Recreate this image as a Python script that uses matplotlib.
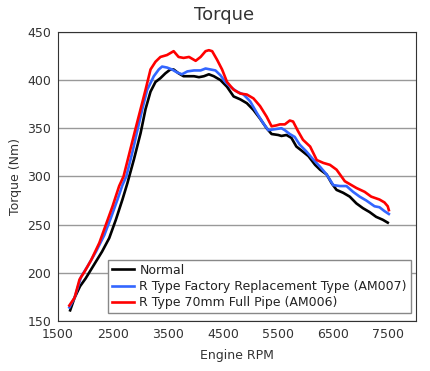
import matplotlib
matplotlib.use("Agg")
import matplotlib.pyplot as plt

# values
normal_rpm = [1720, 1800, 1900, 2000, 2150, 2300, 2430, 2550, 2670, 2760, 2880, 3000,
              3090, 3180, 3270, 3360, 3450, 3540, 3600, 3690, 3780, 3880, 3970, 4060,
              4150, 4240, 4330, 4450, 4570, 4690, 4810, 4930, 5050, 5170, 5290, 5380,
              5500, 5560, 5650, 5740, 5830, 5920, 6050, 6170, 6260, 6380, 6470, 6560,
              6680, 6800, 6920, 7040, 7160, 7280, 7400, 7490]
normal_nm = [161, 174, 186, 194, 208, 222, 236, 255, 276, 293, 318, 345,
             370, 388, 398, 402, 407, 411, 411, 407, 404, 404, 404, 403,
             404, 406, 404, 400, 393, 383, 380, 376, 369, 360, 350, 344,
             343, 342, 343, 340, 331, 327, 321, 312, 307, 302, 293, 286,
             283, 279, 272, 267, 263, 258, 255, 252]

am007_rpm = [1705, 1800, 1920, 2040, 2190, 2340, 2460, 2580, 2670, 2740, 2850, 2950,
             3040, 3120, 3240, 3330, 3390, 3480, 3570, 3660, 3750, 3850, 3970, 4090,
             4180, 4270, 4360, 4450, 4540, 4630, 4750, 4870, 4990, 5110, 5230, 5320,
             5440, 5560, 5620, 5710, 5800, 5890, 6010, 6130, 6260, 6380, 6500, 6620,
             6740, 6860, 6980, 7100, 7250, 7340, 7430, 7510]
am007_nm = [164, 174, 196, 207, 222, 239, 257, 276, 291, 300, 325, 350,
            372, 390, 404, 411, 414, 413, 411, 408, 406, 409, 410, 410,
            412, 411, 410, 405, 398, 393, 388, 385, 378, 366, 355, 348,
            349, 350, 348, 344, 341, 333, 326, 318, 310, 302, 291, 290,
            290, 284, 279, 275, 269, 268, 264, 261]

am006_rpm = [1705, 1800, 1890, 1980, 2100, 2250, 2370, 2490, 2610, 2690, 2800, 2910,
             3000, 3090, 3180, 3270, 3360, 3480, 3600, 3690, 3780, 3880, 4000, 4090,
             4180, 4240, 4300, 4390, 4480, 4570, 4690, 4810, 4930, 5050, 5170, 5290,
             5380, 5470, 5530, 5620, 5710, 5770, 5860, 5950, 6080, 6200, 6320, 6440,
             6560, 6710, 6800, 6920, 7070, 7190, 7340, 7430, 7490, 7510]
am006_nm = [166, 174, 193, 201, 213, 231, 250, 269, 290, 300, 325, 350,
            370, 390, 411, 419, 424, 426, 430, 424, 423, 424, 420, 424,
            430, 431, 430, 421, 411, 398, 390, 386, 385, 381, 373, 362,
            352, 353, 354, 354, 358, 357, 347, 338, 331, 317, 314, 312,
            307, 295, 292, 288, 284, 279, 276, 273, 269, 265]

series_names = ["Normal",
                "R Type Factory Replacement Type (AM007)",
                "R Type 70mm Full Pipe (AM006)"]
x_ticks = [1500, 2500, 3500, 4500, 5500, 6500, 7500]
y_ticks = [150, 200, 250, 300, 350, 400, 450]

fig = plt.figure(figsize=(4.3, 3.71), dpi=100)
ax = fig.add_axes([0.135, 0.135, 0.832, 0.779])

ax.plot(normal_rpm, normal_nm, color="black", lw=1.9, label=series_names[0])
ax.plot(am007_rpm, am007_nm, color="#3366ff", lw=1.9, label=series_names[1])
ax.plot(am006_rpm, am006_nm, color="#ff0000", lw=1.9, label=series_names[2])

ax.set_xlim(1500, 8000)
ax.set_ylim(150, 450)
ax.set_xticks(x_ticks)
ax.set_yticks(y_ticks)
ax.tick_params(labelsize=9, length=0, pad=5, colors="#333333")
ax.yaxis.grid(True, color="#999999", lw=1)
ax.set_axisbelow(True)
for s in ax.spines.values():
    s.set_color("#333333")

fig.suptitle("Torque", x=0.52, y=0.985, fontsize=13, color="#333333")
ax.set_xlabel("Engine RPM", fontsize=9, color="#333333", labelpad=6)
ax.set_ylabel("Torque (Nm)", fontsize=9, color="#333333", labelpad=4)

leg = ax.legend(loc="lower left", bbox_to_anchor=(0.14, 0.028), fontsize=9,
                fancybox=False, framealpha=1, edgecolor="#888888",
                handlelength=1.8, handletextpad=0.4, labelspacing=0.25,
                borderpad=0.3, borderaxespad=0)
for t in leg.get_texts():
    t.set_color("#222222")

fig.savefig("out.png", dpi=100)
